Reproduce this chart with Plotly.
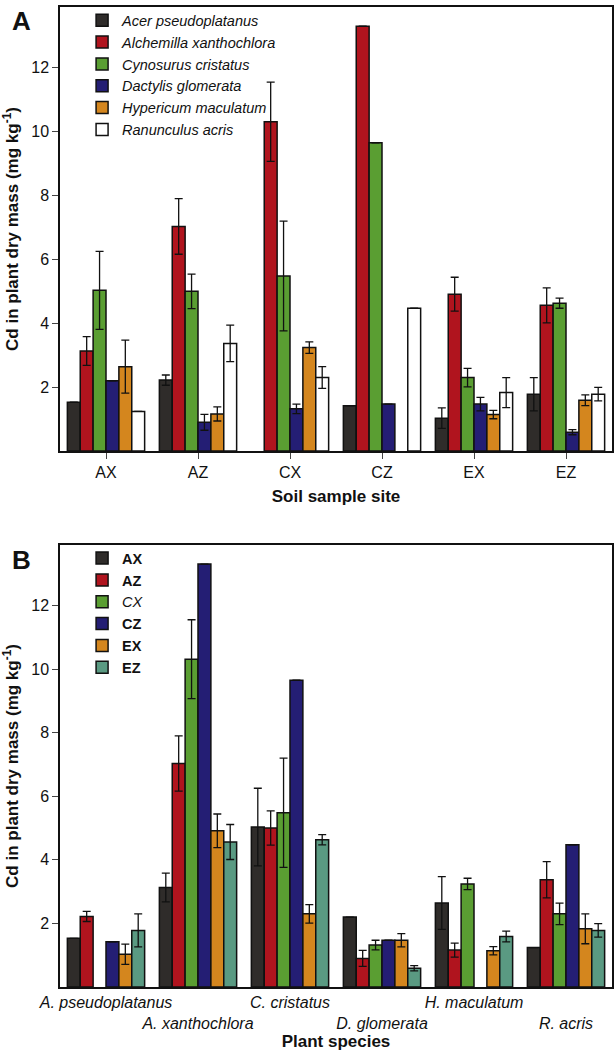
import plotly.graph_objects as go

SITES = ["AX", "AZ", "CX", "CZ", "EX", "EZ"]
SPECIES = ["Acer pseudoplatanus", "Alchemilla xanthochlora", "Cynosurus cristatus",
           "Dactylis glomerata", "Hypericum maculatum", "Ranunculus acris"]
SPECIES_SHORT = ["A. pseudoplatanus", "A. xanthochlora", "C. cristatus",
                 "D. glomerata", "H. maculatum", "R. acris"]

# Cd values [species][site], None = not sampled
CD_MEAN = [
    [1.53, 2.22, None, 1.42, 1.03, 1.78],
    [3.13, 7.03, 10.31, 13.3, 4.91, 4.56],
    [5.03, 5.00, 5.48, 9.65, 2.30, 4.63],
    [2.20, 0.90, 1.32, 1.47, 1.47, 0.59],
    [2.64, 1.16, 3.24, None, 1.14, 1.59],
    [1.24, 3.37, 2.30, 4.47, 1.83, 1.78],
]
CD_ERR = [
    [0, 0.16, 0, 0, 0.32, 0.52],
    [0.45, 0.87, 1.24, 0, 0.53, 0.55],
    [1.22, 0.54, 1.72, 0, 0.29, 0.16],
    [0, 0.25, 0.15, 0, 0.21, 0.08],
    [0.83, 0.22, 0.18, 0, 0.13, 0.17],
    [0, 0.57, 0.34, 0, 0.47, 0.21],
]

COLORS_A = ["#2f2c2a", "#b0141e", "#5a9e32", "#241e74", "#d4861e", "#ffffff"]
COLORS_B = ["#2f2c2a", "#b0141e", "#5a9e32", "#241e74", "#d4861e", "#5a9a82"]
SITE_LABELS = ["<b>AX</b>", "<b>AZ</b>", "<i>CX</i>", "<b>CZ</b>", "<b>EX</b>", "<b>EZ</b>"]

FONT = "Liberation Sans, Arial, sans-serif"

fig = go.Figure()

def err_arr(vals, errs):
    return [e if (v is not None and e > 0) else None for v, e in zip(vals, errs)]

for i, sp in enumerate(SPECIES):
    fig.add_trace(go.Bar(
        x=SITES, y=CD_MEAN[i], name="<i>%s</i>" % sp,
        marker=dict(color=COLORS_A[i], line=dict(color="#111", width=1.5)),
        error_y=dict(type="data", array=err_arr(CD_MEAN[i], CD_ERR[i]),
                     color="#111", thickness=1.3, width=4),
        xaxis="x", yaxis="y", legend="legend",
    ))

for j, site in enumerate(SITES):
    vals = [CD_MEAN[i][j] for i in range(6)]
    errs = [CD_ERR[i][j] for i in range(6)]
    fig.add_trace(go.Bar(
        x=SPECIES_SHORT, y=vals, name=SITE_LABELS[j],
        marker=dict(color=COLORS_B[j], line=dict(color="#111", width=1.5)),
        error_y=dict(type="data", array=err_arr(vals, errs),
                     color="#111", thickness=1.3, width=4),
        xaxis="x2", yaxis="y2", legend="legend2",
    ))

yax = dict(range=[0, 13.9], tickvals=[2, 4, 6, 8, 10, 12], ticks="outside", ticklen=6,
           showline=True, linecolor="#111", linewidth=1.5, mirror=True, showgrid=False,
           zeroline=False, tickfont=dict(size=16),
           title=dict(text="<b>Cd in plant dry mass (mg kg<sup>-1</sup>)</b>", font=dict(size=17), standoff=8))
xax = dict(showline=True, linecolor="#111", linewidth=1.5, mirror=True, showgrid=False,
           tickfont=dict(size=16))

b_ticks = ["<i>%s</i>" % s if k % 2 == 0 else "<br><i>%s</i>" % s
           for k, s in enumerate(SPECIES_SHORT)]

legend_style = dict(xanchor="left", yanchor="top", bgcolor="rgba(0,0,0,0)",
                    font=dict(size=14.5), tracegroupgap=0, itemwidth=30)

fig.update_layout(
    width=614, height=1063,
    font=dict(family=FONT, color="#111"),
    plot_bgcolor="white", paper_bgcolor="white",
    margin=dict(l=60, r=2, t=0, b=0),
    barmode="group", bargap=0.16, bargroupgap=0,
    showlegend=True,
    xaxis=dict(xax, domain=[0, 1], anchor="y", ticks="outside", ticklen=6,
               title=dict(text="<b>Soil sample site</b>", font=dict(size=17), standoff=10)),
    yaxis=dict(yax, domain=[0.5757, 0.9934], anchor="x"),
    xaxis2=dict(xax, domain=[0, 1], anchor="y2", ticks="", tickvals=SPECIES_SHORT,
                ticktext=b_ticks, tickangle=0,
                title=dict(text="<b>Plant species</b>", font=dict(size=17), standoff=2)),
    yaxis2=dict(yax, domain=[0.0715, 0.4873], anchor="x2"),
    legend=dict(legend_style, x=0.04, y=0.996),
    legend2=dict(legend_style, x=0.04, y=0.49),
)
fig.add_annotation(text="<b>A</b>", x=-0.07, y=0.98, xref="paper", yref="paper",
                   showarrow=False, font=dict(size=26), xanchor="center", yanchor="middle")
fig.add_annotation(text="<b>B</b>", x=-0.07, y=0.473, xref="paper", yref="paper",
                   showarrow=False, font=dict(size=26), xanchor="center", yanchor="middle")

fig.write_html("out.html", config={"displayModeBar": False},
               post_script="document.body.style.margin='0';document.body.style.overflow='hidden';")
